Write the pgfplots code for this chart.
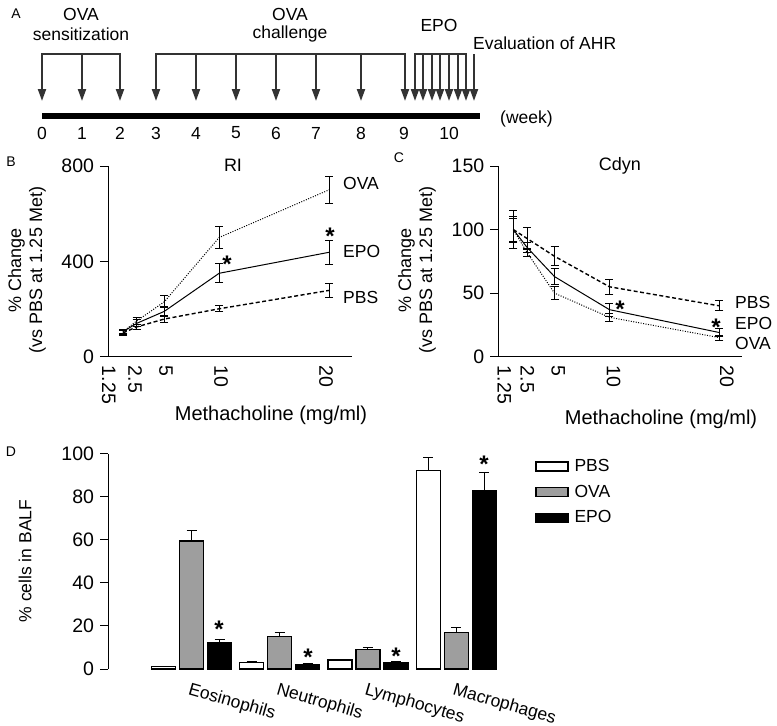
\documentclass[border=0pt]{standalone}
\usepackage{fontspec}
\setmainfont{Liberation Sans}
\usepackage{pgfplots}
\pgfplotsset{compat=1.18}
\usetikzlibrary{arrows.meta}
\definecolor{arr}{HTML}{333333}
\definecolor{ovagray}{HTML}{9E9E9E}
\newcommand\sig[2]{\node[inner sep=0pt, anchor=north, font=\fontsize{24}{24}\selectfont\bfseries] at (#1pt,-#2pt+4.5pt) {*};}
\newcommand\T[3][]{\node[#1] at (#2pt,-#3pt)}
\begin{document}
\fontsize{17.5}{20}\selectfont
\begin{tikzpicture}
\useasboundingbox (0pt,0pt) rectangle (777pt,-726pt);
\pgfplotsset{
  every axis/.append style={/pgf/number format/assume math mode=true},
  panelline/.style={
    scale only axis, width=243.7pt, height=190.7pt,
    xmin=-0.115, xmax=22.06, ymin=0,
    axis lines=left, axis line style={-, line width=1pt},
    tick align=outside, major tick length=8pt,
    ytick style={line width=1pt, black},
    xtick style={draw=none},
    xticklabels={1.25,2.5,5,10,20},
    x tick label style={rotate=-90, anchor=west, inner sep=1pt},
    tick label style={font=\fontsize{19.5}{20}\selectfont},
    clip=false,
    error bars/y dir=both, error bars/y explicit,
    error bars/error bar style={solid, line width=1pt, black},
    error bars/error mark options={solid, rotate=90, mark size=4pt, line width=1pt, black},
  },
  ova/.style={black, line width=1pt, dash pattern=on 1pt off 1.5pt, mark=none},
  epo/.style={black, line width=1pt, solid, mark=none},
  pbs/.style={black, line width=1.4pt, dash pattern=on 4pt off 2.5pt, mark=none},
}
% ---------------- Panel A ----------------
\begin{axis}[at={(0pt,0pt)}, anchor=north west, scale only axis, width=777pt, height=150pt,
  xmin=0, xmax=777, ymin=0, ymax=150, y dir=reverse, hide axis, clip=false]
\addplot[draw=arr, line width=2pt, -{Triangle[length=12pt,width=8pt]}, quiver={u=0,v=47}] table {
x y
42 54
82 54
120 54
156 54
196 54
236 54
276 54
316 54
361 54
405 54
415 54
423 54
432 54
440 54
449 54
458 54
466 54
474 54
};
\addplot[draw=arr, line width=2.5pt] coordinates {(41,54) (121,54)};
\addplot[draw=arr, line width=2.5pt] coordinates {(155,54) (406,54)};
\addplot[draw=arr, line width=2.5pt] coordinates {(414,54) (467,54)};
\addplot[black, line width=6pt] coordinates {(42,115.5) (480,115.5)};
\end{axis}
\foreach \p/\l in {42/0,82/1,120/2,156/3,196/4,236/5,276/6,316/7,361/8,404/9,449/10}
  \node at (\p pt,-133pt) {\l};
\T[font=\fontsize{14}{16}\selectfont]{16}{14} {A};
\T{81}{14} {OVA};
\T{81}{34} {sensitization};
\T{290}{14} {OVA};
\T{290}{34} {challenge};
\T{439}{25} {EPO};
\T[anchor=west, inner sep=0pt]{473}{43} {Evaluation of AHR};
\T[anchor=west, inner sep=0pt]{500}{119} {(week)};
% ---------------- Panel B ----------------
\begin{axis}[panelline, at={(108pt,-356.7pt)}, anchor=south west, ymax=800,
  ytick={0,400,800}, xtick={-0.05,2.34,5.16,10.17,19.72}]
\addplot[ova] coordinates {(1.25,105) +- (0,10) (2.5,150) +- (0,15) (5,230) +- (0,25) (10,500) +- (0,48) (20,700) +- (0,58)};
\addplot[epo] coordinates {(1.25,105) +- (0,8) (2.5,140) +- (0,15) (5,190) +- (0,20) (10,350) +- (0,40) (20,438) +- (0,50)};
\addplot[pbs] coordinates {(1.25,100) +- (0,12) (2.5,125) +- (0,12) (5,158) +- (0,15) (10,201) +- (0,12) (20,278) +- (0,28)};
\end{axis}
\T[font=\fontsize{14}{16}\selectfont]{11}{162} {B};
\T[font=\fontsize{18}{20}\selectfont]{233}{165} {RI};
\T[anchor=west, inner sep=0pt]{343}{183} {OVA};
\T[anchor=west, inner sep=0pt]{343}{251} {EPO};
\T[anchor=west, inner sep=0pt]{343}{297} {PBS};
\sig{227}{260}
\sig{330}{232}
\T[rotate=90, align=center, font=\fontsize{18}{21}\selectfont]{27}{270} {\% Change\\(vs PBS at 1.25 Met)};
\T[font=\fontsize{20}{22}\selectfont]{271}{415} {Methacholine (mg/ml)};
% ---------------- Panel C ----------------
\begin{axis}[panelline, at={(498.3pt,-356.7pt)}, anchor=south west, ymax=150,
  ytick={0,50,100,150}, xtick={0.43,2.52,5.34,10.38,20.67}]
\addplot[ova] coordinates {(1.25,100) +- (0,10) (2.5,82) +- (0,3) (5,50) +- (0,5) (10,31) +- (0,3) (20,15) +- (0,2)};
\addplot[epo] coordinates {(1.25,100) +- (0,9) (2.5,86) +- (0,4) (5,63) +- (0,6.5) (10,37) +- (0,5) (20,19) +- (0,3)};
\addplot[pbs] coordinates {(1.25,100) +- (0,15) (2.5,93) +- (0,9) (5,79) +- (0,7.5) (10,55) +- (0,6) (20,40) +- (0,4)};
\end{axis}
\T[font=\fontsize{14}{16}\selectfont]{399}{158} {C};
\T[font=\fontsize{18}{20}\selectfont]{620}{166} {Cdyn};
\T[anchor=west, inner sep=0pt]{735}{302} {PBS};
\T[anchor=west, inner sep=0pt]{735}{323} {EPO};
\T[anchor=west, inner sep=0pt]{735}{343} {OVA};
\sig{620}{305}
\sig{716}{323}
\T[rotate=90, align=center, font=\fontsize{18}{21}\selectfont]{417}{270} {\% Change\\(vs PBS at 1.25 Met)};
\T[font=\fontsize{20}{22}\selectfont]{661}{419} {Methacholine (mg/ml)};
% ---------------- Panel D ----------------
\begin{axis}[at={(108pt,-669pt)}, anchor=south west, scale only axis, width=436.3pt, height=215.4pt,
  xmin=-0.947, xmax=4, ymin=0, ymax=100,
  axis lines=left, axis line style={-, line width=1pt}, x axis line style={draw=none},
  tick align=outside, major tick length=8pt,
  ytick={0,20,40,60,80,100}, ytick style={line width=1pt, black},
  xtick={0,1,2,3}, xticklabels={Eosinophils,Neutrophils,Lymphocytes,Macrophages},
  xtick style={draw=none},
  x tick label style={rotate=-16, anchor=north west, xshift=-5pt, yshift=1pt, font=\fontsize{17.5}{20}\selectfont},
  y tick label style={font=\fontsize{19.5}{20}\selectfont},
  clip=false,
  error bars/y dir=plus, error bars/y explicit,
  error bars/error bar style={line width=1pt, black},
  error bars/error mark options={rotate=90, mark size=5pt, line width=1pt, black},
  legend style={at={(0.979,0.985)}, anchor=north west, draw=none, fill=none,
    row sep=7pt, column sep=4pt, inner sep=0pt, font=\fontsize{17.5}{20}\selectfont},
  legend cell align=left,
  legend image code/.code={\draw[#1, /tikz/.cd, line width=1.2pt] (0pt,-4.5pt) rectangle (32pt,4.5pt);},
]
\addplot[ybar, bar width=24pt, bar shift=0pt, fill=white, draw=black, line width=1.2pt]
  coordinates {(-0.3175,1.1) +- (0,0) (0.6825,3.1) +- (0,0.4) (1.6825,4.2) +- (0,0.3) (2.6825,92) +- (0,6)};
\addplot[ybar, bar width=24pt, bar shift=0pt, fill=ovagray, draw=black, line width=1.2pt]
  coordinates {(0,59.4) +- (0,4.8) (1,15) +- (0,2) (2,9.2) +- (0,0.8) (3,17.1) +- (0,2.1)};
\addplot[ybar, bar width=24pt, bar shift=0pt, fill=black, draw=black, line width=1.2pt]
  coordinates {(0.3175,12.2) +- (0,1.3) (1.3175,2.2) +- (0,0.3) (2.3175,3.1) +- (0,0.3) (3.3175,83) +- (0,8)};
\legend{PBS,OVA,EPO}
\end{axis}
\T[font=\fontsize{14}{16}\selectfont]{11}{452} {D};
\T[rotate=90]{25}{561} {\% cells in BALF};
\sig{219}{625}
\sig{308}{653}
\sig{396}{652}
\sig{484}{460}
\end{tikzpicture}
\end{document}
